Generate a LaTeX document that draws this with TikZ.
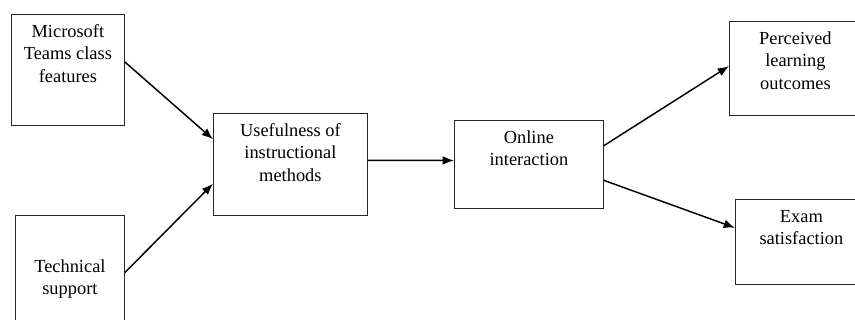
\documentclass[tikz,border=0pt]{standalone}
\usepackage{fontspec}
\setmainfont{Liberation Serif}
\usetikzlibrary{arrows.meta}

\begin{document}
\begin{tikzpicture}[x=0.75pt, y=-0.75pt,
    box/.style={draw=black!85, line width=0.6pt, inner sep=0, anchor=north west, font=\fontsize{13.8}{16.9}\selectfont},
    link/.style={-{Latex[length=8.5pt,width=6.5pt]}, line width=1.1pt}]
\useasboundingbox (0,0) rectangle (855,320);

    \node[box] (feat) at (11,14) {\parbox[c][83.25pt][t]{84.75pt}{\centering\rule{0pt}{17pt}Microsoft\\Teams class\\features}};
    \node[box] (tech) at (15,215) {\parbox[c][94.5pt][t]{81.75pt}{\centering\rule{0pt}{42.75pt}Technical\\support}};
    \node[box] (use) at (213,113) {\parbox[c][76.5pt][t]{115.5pt}{\centering\rule{0pt}{17pt}Usefulness of\\instructional\\methods}};
    \node[box] (onl) at (454,120) {\parbox[c][66pt][t]{111.75pt}{\centering\rule{0pt}{17pt}Online\\interaction}};
    \node[box] (perc) at (729,21) {\parbox[c][70.5pt][t]{99pt}{\centering\rule{0pt}{17pt}Perceived\\learning\\outcomes}};
    \node[box] (exam) at (735,199) {\parbox[c][63.75pt][t]{99pt}{\centering\rule{0pt}{17pt}Exam\\satisfaction}};

    \draw[link] (feat.8.6) -- (use.162.7);
    \draw[link] (tech.6.3) -- (use.-166);
    \draw[link] (use.3) -- (onl.177);
    \draw[link] (onl.14.7) -- (perc.178.3);
    \draw[link] (onl.-12.5) -- (exam.168.4);

\end{tikzpicture}
\end{document}
